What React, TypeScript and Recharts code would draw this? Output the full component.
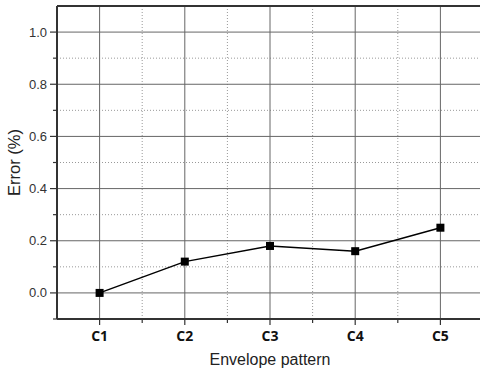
import { LineChart, Line, XAxis, YAxis, CartesianGrid, ReferenceLine } from 'recharts';

const categories = ['C1', 'C2', 'C3', 'C4', 'C5'];
const errorValues = [0, 0.12, 0.18, 0.16, 0.25];
const yMajorTicks = [0, 0.2, 0.4, 0.6, 0.8, 1.0];
const yMinorTicks = [-0.1, 0.1, 0.3, 0.5, 0.7, 0.9];
const xMinorTicks = [1.5, 2.5, 3.5, 4.5];

const data = categories.map((name, i) => ({ x: i + 1, name, error: errorValues[i] }));
const xMajorTicks = data.map((d) => d.x);

const font = '"Liberation Sans", Arial, sans-serif';

function YTick(props: any) {
  const { x, y, payload } = props;
  const v = Math.round(payload.value * 10) / 10;
  const major = yMajorTicks.some((t) => Math.abs(t - v) < 1e-6);
  return (
    <g>
      <line x1={x - (major ? 7 : 4)} x2={x} y1={y} y2={y} stroke="#333" strokeWidth={1.2} />
      {major && (
        <text x={x - 10} y={y} dy={4.5} textAnchor="end" fontSize={13} fontFamily={font} fill="#333">
          {v.toFixed(1)}
        </text>
      )}
    </g>
  );
}

function XTick(props: any) {
  const { x, y, payload } = props;
  const v = payload.value;
  const major = Number.isInteger(v);
  return (
    <g>
      <line x1={x} x2={x} y1={y} y2={y + (major ? 6 : 4)} stroke="#333" strokeWidth={1.2} />
      {major && (
        <text x={x} y={y + 22} textAnchor="middle" fontSize={14} fontWeight="bold" fontFamily='"Open Sans", sans-serif' fill="#111">
          {categories[v - 1]}
        </text>
      )}
    </g>
  );
}

export default function App() {
  return (
    <div style={{ position: 'absolute', left: 0, top: 0, width: 480, height: 373, overflow: 'hidden', background: '#fff' }}>
      <LineChart width={490} height={373} data={data} margin={{ top: 6, right: 7, left: 0, bottom: 0 }}>
        <CartesianGrid horizontalValues={yMinorTicks.slice(1)} verticalValues={xMinorTicks} stroke="#999" strokeDasharray="1 2" />
        <CartesianGrid horizontalValues={yMajorTicks} verticalValues={xMajorTicks} stroke="#666" />
        <ReferenceLine y={1.1} stroke="#333" strokeWidth={2} />
        <XAxis
          dataKey="x"
          type="number"
          domain={[0.5, 5.5]}
          ticks={[...xMajorTicks, ...xMinorTicks].sort((a, b) => a - b)}
          interval={0}
          height={54}
          tickSize={0}
          tickMargin={0}
          tickLine={false}
          stroke="#333"
          strokeWidth={2}
          tick={<XTick />}
          label={{ value: 'Envelope pattern', position: 'insideBottom', offset: 8, fontSize: 16, fontFamily: font, fill: '#222' }}
        />
        <YAxis
          type="number"
          domain={[-0.1, 1.1]}
          ticks={[...yMajorTicks, ...yMinorTicks].sort((a, b) => a - b)}
          interval={0}
          width={57}
          tickSize={0}
          tickMargin={0}
          tickLine={false}
          stroke="#333"
          strokeWidth={2}
          tick={<YTick />}
          label={(p: any) => {
            const vb = p.viewBox;
            const cx = 14;
            const cy = vb.y + vb.height / 2;
            return (
              <text x={cx} y={cy} transform={`rotate(-90 ${cx} ${cy})`} dy={6} textAnchor="middle" fontSize={16.5} fontFamily={font} fill="#222">
                Error (%)
              </text>
            );
          }}
        />
        <Line
          dataKey="error"
          stroke="#000"
          strokeWidth={1.5}
          isAnimationActive={false}
          dot={(p: any) => <rect key={p.index} x={p.cx - 4} y={p.cy - 4} width={8} height={8} fill="#000" />}
        />
      </LineChart>
    </div>
  );
}
